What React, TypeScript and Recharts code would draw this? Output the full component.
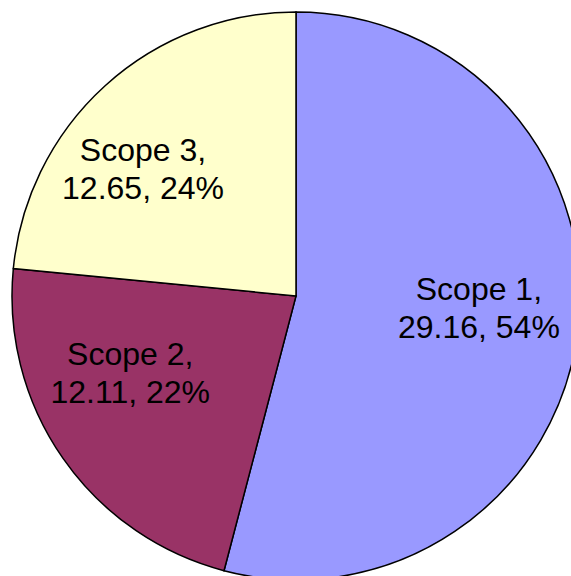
import { Pie, PieChart, Cell } from "recharts";

const scopes = ["Scope 1", "Scope 2", "Scope 3"];
const emissions = [29.16, 12.11, 12.65];
const shareLabels = ["54%", "22%", "24%"];
const sliceColors = ["#9999FF", "#993366", "#FFFFCC"];

const data = scopes.map((name, i) => ({
  name,
  value: emissions[i],
  share: shareLabels[i],
}));

// Excel doesn't put the labels exactly on the mid angle, so nudge them a little
const labelNudge = [
  { dx: -3, dy: -12 },
  { dx: -12, dy: -30 },
  { dx: -27, dy: 12 },
];

const RADIAN = Math.PI / 180;
const LINE_GAP = 38;

const renderLabel = (props: any) => {
  const { cx, cy, midAngle, outerRadius, index, name, value, payload } = props;
  const r = outerRadius * 0.66;
  const nudge = labelNudge[index] ?? { dx: 0, dy: 0 };
  const x = cx + r * Math.cos(-midAngle * RADIAN) + nudge.dx;
  const mid = cy + r * Math.sin(-midAngle * RADIAN) + nudge.dy;
  // two lines, first baseline sits a bit above the block middle
  const y1 = mid - 8;

  return (
    <text
      x={x}
      y={y1}
      fill="#000"
      textAnchor="middle"
      fontFamily="'Liberation Sans', Arial, sans-serif"
      fontSize={32}
    >
      <tspan x={x} y={y1}>
        {`${name},`}
      </tspan>
      <tspan x={x} y={y1 + LINE_GAP}>
        {`${value.toFixed(2)}, ${payload?.share ?? ""}`}
      </tspan>
    </text>
  );
};

export default function App() {
  return (
    <div style={{ position: "absolute", left: 0, top: 0, background: "#fff" }}>
      <PieChart
        width={571}
        height={576}
        margin={{ top: 0, right: 0, bottom: 0, left: 0 }}
      >
        <Pie
          data={data}
          dataKey="value"
          nameKey="name"
          cx={296}
          cy={296}
          outerRadius={284}
          startAngle={90}
          endAngle={-270}
          stroke="#000"
          strokeWidth={1.5}
          labelLine={false}
          label={renderLabel}
          isAnimationActive={false}
        >
          {data.map((entry, i) => (
            <Cell key={entry.name} fill={sliceColors[i]} />
          ))}
        </Pie>
      </PieChart>
    </div>
  );
}
